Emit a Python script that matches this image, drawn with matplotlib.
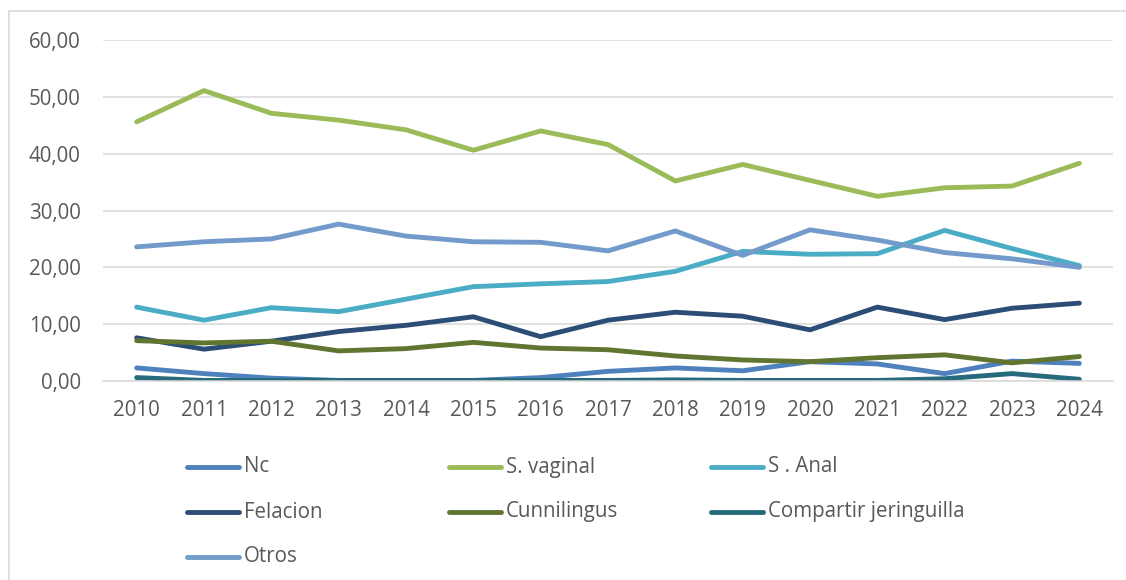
import matplotlib
matplotlib.use("Agg")
import matplotlib.pyplot as plt
from matplotlib.lines import Line2D
from matplotlib.patches import Rectangle

years = [2010, 2011, 2012, 2013, 2014, 2015, 2016, 2017, 2018, 2019, 2020, 2021, 2022, 2023, 2024]

nc = [2.3, 1.3, 0.5, 0.1, 0.1, 0.1, 0.6, 1.7, 2.3, 1.8, 3.4, 3.0, 1.3, 3.5, 3.1]
s_vaginal = [45.6, 51.1, 47.1, 45.9, 44.2, 40.6, 44.0, 41.6, 35.2, 38.1, 35.3, 32.5, 34.0, 34.3, 38.3]
s_anal = [13.0, 10.7, 12.9, 12.2, 14.4, 16.6, 17.1, 17.5, 19.3, 22.8, 22.3, 22.4, 26.5, 23.3, 20.3]
felacion = [7.6, 5.6, 7.0, 8.7, 9.8, 11.3, 7.8, 10.7, 12.1, 11.4, 9.0, 13.0, 10.8, 12.8, 13.7]
cunnilingus = [7.1, 6.7, 7.0, 5.3, 5.7, 6.8, 5.8, 5.5, 4.4, 3.7, 3.4, 4.1, 4.6, 3.2, 4.3]
jeringuilla = [0.6, 0.1, 0.1, 0.1, 0.1, 0.1, 0.1, 0.1, 0.2, 0.1, 0.1, 0.1, 0.4, 1.3, 0.3]
otros = [23.6, 24.5, 25.0, 27.6, 25.5, 24.5, 24.4, 22.9, 26.4, 22.1, 26.6, 24.8, 22.6, 21.5, 20.0]

names = ["Nc", "S. vaginal", "S . Anal", "Felacion", "Cunnilingus",
         "Compartir jeringuilla", "Otros"]
series = [nc, s_vaginal, s_anal, felacion, cunnilingus, jeringuilla, otros]
colors = ["#4F81BD", "#9BBB59", "#4BACC6", "#2C4D75", "#5F7530", "#276A7C", "#729ACA"]

plt.rcParams['font.family'] = ['Open Sans', 'DejaVu Sans']
txt = "#595959"
grid = "#D9D9D9"
W, H = 1126, 580

fig = plt.figure(figsize=(W / 100, H / 100), dpi=100)
ax = fig.add_axes([103 / W, 1 - 381 / H, 1010 / W, 341 / H])

lw = 3.5
for name, vals, c in zip(names, series, colors):
    ax.plot(years, vals, color=c, lw=lw, solid_capstyle='round',
            solid_joinstyle='round', label=name)

ax.set_xlim(2009.5, 2024.5)
ax.set_ylim(0, 60)
ax.set_xticks(years)
ax.set_xticklabels([str(y) for y in years])
ax.set_yticks(range(0, 61, 10))
ax.set_yticklabels(["%d,00" % v for v in range(0, 61, 10)])
ax.yaxis.grid(True, color=grid, lw=1.1)
ax.set_axisbelow(True)
for s in ['top', 'right', 'left']:
    ax.spines[s].set_visible(False)
ax.spines['bottom'].set_color(grid)
ax.spines['bottom'].set_linewidth(1.1)
ax.tick_params(axis='both', length=0, labelsize=14.8, labelcolor=txt)
ax.tick_params(axis='y', pad=16)
ax.tick_params(axis='x', pad=14)

# legend, three equal columns like Excel
for i, (name, c) in enumerate(zip(names, colors)):
    col, row = i % 3, i // 3
    x0 = 187 + col * 262
    y0 = 467 + row * 45
    fig.add_artist(Line2D([x0 / W, (x0 + 52) / W], [1 - y0 / H, 1 - y0 / H],
                          color=c, lw=lw, solid_capstyle='round'))
    fig.text((x0 + 57) / W, 1 - y0 / H, name, fontsize=14.8, color=txt,
             va='center', ha='left')

# chart border
fig.add_artist(Rectangle((9 / W, -0.05), 1.2, 1 - 11 / H + 0.05,
                         transform=fig.transFigure, fill=False,
                         edgecolor=grid, lw=1.2))

fig.savefig("out.png", dpi=100, facecolor="white")
